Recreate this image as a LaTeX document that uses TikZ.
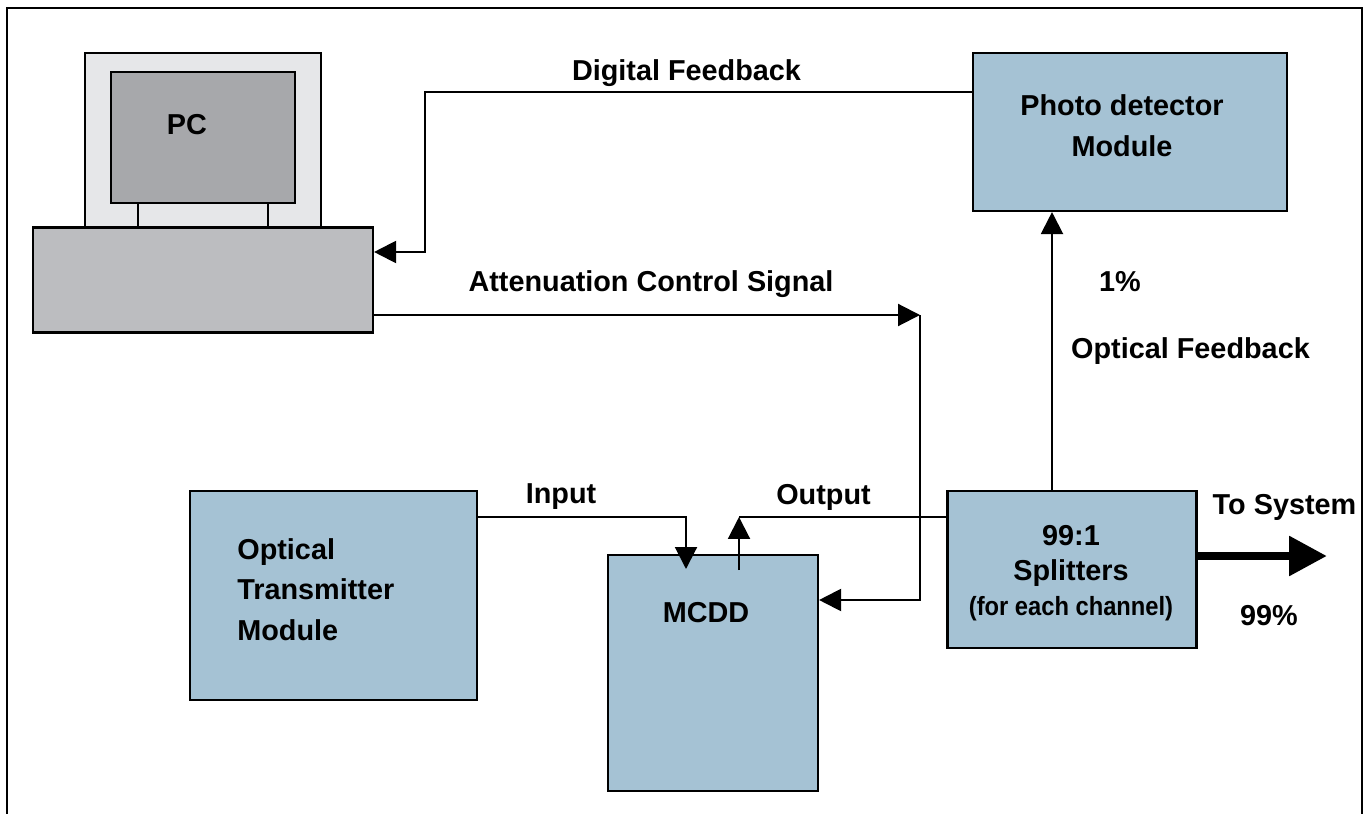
\documentclass[tikz,border=0pt]{standalone}
\usepackage{fontspec}
\setmainfont{Liberation Sans}
\usetikzlibrary{arrows.meta}
\tikzset{
  box/.style={draw, line width=1.2pt, inner sep=0pt, fill=boxblue},
  label/.style={font=\bfseries\fontsize{16.4}{23}\selectfont, inner sep=0pt, align=center},
  small/.style={font=\bfseries\fontsize{15}{20.4}\selectfont, inner sep=0pt, align=center},
  wire/.style={line width=1.2pt, -{Triangle[length=12.5pt,width=12.5pt]}},
  plain/.style={line width=1.2pt}
}
\definecolor{boxblue}{HTML}{A5C2D4}
\definecolor{screengray}{HTML}{A7A8AB}
\definecolor{basegray}{HTML}{BCBDC0}
\definecolor{monitorgray}{HTML}{E6E7E9}
\begin{document}
\begin{tikzpicture}[x=0.02cm, y=-0.02cm]
    \useasboundingbox (0,0) rectangle (1369,814);
    % outer frame, open at the bottom
    \draw[plain] (7,814) -- (7,8) -- (1362,8) -- (1362,814);
    % pc
    \draw[plain, fill=monitorgray] (85,228) rectangle (321,53);
    \draw[plain, fill=monitorgray] (138,228) rectangle (268,203);
    \node[box, fill=screengray, minimum width=184*0.02cm, minimum height=131*0.02cm] (screen) at (203,137.5) {};
    \node[box, fill=basegray, minimum width=340*0.02cm, minimum height=105*0.02cm] (base) at (203,280) {};
    \node[label] (pclabel) at (187,125) {PC};
    % blue boxes
    \node[box, minimum width=314*0.02cm, minimum height=158*0.02cm] (photo) at (1130,132) {};
    \node[box, minimum width=287*0.02cm, minimum height=209*0.02cm] (trans) at (333.5,595.5) {};
    \node[box, minimum width=210*0.02cm, minimum height=236*0.02cm] (mcdd) at (713,673) {};
    \node[box, minimum width=249*0.02cm, minimum height=157*0.02cm] (split) at (1072,569.5) {};
    % box texts
    \node[label] (photolabel) at (1122,125.5) {Photo detector\\Module};
    \node[label, anchor=west, align=left] (translabel) at (237,589.5) {Optical\\Transmitter\\Module};
    \node[label] (mcddlabel) at (706,613) {MCDD};
    \node[label] (splitlabel) at (1071,555.5) {99:1\\[-3pt]Splitters};
    \node[small] (channellabel) at (1071,609) {\scalebox{0.9}[1]{(for each channel)}};
    % corners of the connectors
    \coordinate (digital) at (425,92);
    \coordinate (atten) at (920,315);
    \coordinate (input) at (686,517);
    \coordinate (output) at (739,517);
    \coordinate (opto) at (1052,350);
    % connectors
    \draw[wire] (digital -| photo.west) -- (digital) |- (base.east |- 0,252);
    \draw[wire] (atten -| base.east) -- (atten);
    \draw[wire] (atten) |- (mcdd.east |- 0,600);
    \draw[wire] (input -| trans.east) -- (input) -- (input |- 0,569);
    \draw[plain] (output -| split.west) -- (output);
    \draw[wire] (output |- 0,570) -- (output);
    \draw[wire] (opto |- split.north) -- (opto |- photo.south);
    \draw[line width=5pt, -{Triangle[length=21.5pt,width=21.5pt]}] (split.east |- 0,556) -- (1327,556);
    % connector texts
    \node[label] (digitallabel) at (686.5,73) {Digital Feedback};
    \node[label] (attenlabel) at (651,284) {Attenuation Control Signal};
    \node[label] (inputlabel) at (561,497) {Input};
    \node[label] (outputlabel) at (823.5,497) {Output};
    \node[label] (onelabel) at (1120,282) {1\%};
    \node[label] (optolabel) at (1190.5,351) {Optical Feedback};
    \node[label] (systemlabel) at (1284.5,507) {To System};
    \node[label] (ninelabel) at (1269,616) {99\%};
  \end{tikzpicture}
\end{document}
